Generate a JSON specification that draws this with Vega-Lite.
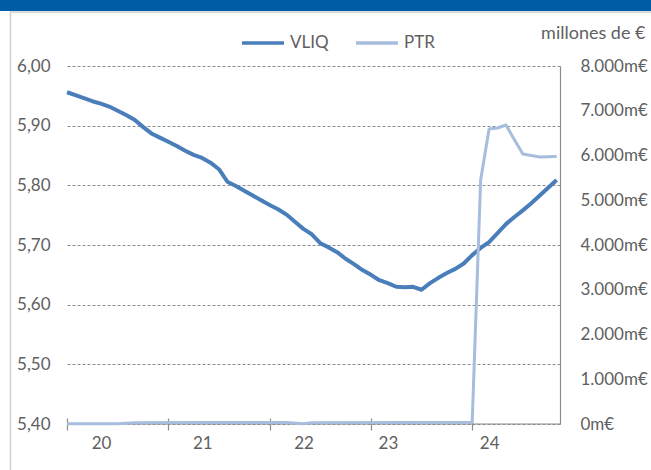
{
  "$schema": "https://vega.github.io/schema/vega-lite/v6.json",
  "width": 493,
  "height": 358,
  "autosize": {"type": "none"},
  "padding": {"left": 67, "top": 66, "right": 91, "bottom": 46},
  "background": "white",
  "config": {
    "view": {"stroke": null},
    "font": "Lato",
    "axis": {"labelFont": "Lato", "labelFontSize": 17, "labelColor": "#606060", "titleFont": "Lato", "titleColor": "#606060", "titleFontWeight": "normal"}
  },
  "datasets": {
    "vliq": [
      {"m": 0, "serie": "VLIQ", "valor": 5.956}, {"m": 1, "serie": "VLIQ", "valor": 5.951}, {"m": 2, "serie": "VLIQ", "valor": 5.946},
      {"m": 3, "serie": "VLIQ", "valor": 5.941}, {"m": 4, "serie": "VLIQ", "valor": 5.937}, {"m": 5, "serie": "VLIQ", "valor": 5.932},
      {"m": 6, "serie": "VLIQ", "valor": 5.925}, {"m": 7, "serie": "VLIQ", "valor": 5.918}, {"m": 8, "serie": "VLIQ", "valor": 5.910},
      {"m": 9, "serie": "VLIQ", "valor": 5.898}, {"m": 10, "serie": "VLIQ", "valor": 5.887}, {"m": 11, "serie": "VLIQ", "valor": 5.880},
      {"m": 12, "serie": "VLIQ", "valor": 5.873}, {"m": 13, "serie": "VLIQ", "valor": 5.866}, {"m": 14, "serie": "VLIQ", "valor": 5.858},
      {"m": 15, "serie": "VLIQ", "valor": 5.851}, {"m": 16, "serie": "VLIQ", "valor": 5.846}, {"m": 17, "serie": "VLIQ", "valor": 5.838},
      {"m": 18, "serie": "VLIQ", "valor": 5.827}, {"m": 19, "serie": "VLIQ", "valor": 5.806}, {"m": 20, "serie": "VLIQ", "valor": 5.799},
      {"m": 21, "serie": "VLIQ", "valor": 5.791}, {"m": 22, "serie": "VLIQ", "valor": 5.783}, {"m": 23, "serie": "VLIQ", "valor": 5.775},
      {"m": 24, "serie": "VLIQ", "valor": 5.767}, {"m": 25, "serie": "VLIQ", "valor": 5.760}, {"m": 26, "serie": "VLIQ", "valor": 5.751},
      {"m": 27, "serie": "VLIQ", "valor": 5.739}, {"m": 28, "serie": "VLIQ", "valor": 5.727}, {"m": 29, "serie": "VLIQ", "valor": 5.718},
      {"m": 30, "serie": "VLIQ", "valor": 5.703}, {"m": 31, "serie": "VLIQ", "valor": 5.696}, {"m": 32, "serie": "VLIQ", "valor": 5.688},
      {"m": 33, "serie": "VLIQ", "valor": 5.677}, {"m": 34, "serie": "VLIQ", "valor": 5.668}, {"m": 35, "serie": "VLIQ", "valor": 5.658},
      {"m": 36, "serie": "VLIQ", "valor": 5.650}, {"m": 37, "serie": "VLIQ", "valor": 5.641}, {"m": 38, "serie": "VLIQ", "valor": 5.636},
      {"m": 39, "serie": "VLIQ", "valor": 5.630}, {"m": 40, "serie": "VLIQ", "valor": 5.629}, {"m": 41, "serie": "VLIQ", "valor": 5.630},
      {"m": 42, "serie": "VLIQ", "valor": 5.625}, {"m": 43, "serie": "VLIQ", "valor": 5.636}, {"m": 44, "serie": "VLIQ", "valor": 5.645},
      {"m": 45, "serie": "VLIQ", "valor": 5.653}, {"m": 46, "serie": "VLIQ", "valor": 5.660}, {"m": 47, "serie": "VLIQ", "valor": 5.669},
      {"m": 48, "serie": "VLIQ", "valor": 5.683}, {"m": 49, "serie": "VLIQ", "valor": 5.695}, {"m": 50, "serie": "VLIQ", "valor": 5.705},
      {"m": 51, "serie": "VLIQ", "valor": 5.720}, {"m": 52, "serie": "VLIQ", "valor": 5.735}, {"m": 53, "serie": "VLIQ", "valor": 5.747},
      {"m": 54, "serie": "VLIQ", "valor": 5.758}, {"m": 55, "serie": "VLIQ", "valor": 5.770}, {"m": 56, "serie": "VLIQ", "valor": 5.783},
      {"m": 57, "serie": "VLIQ", "valor": 5.796}, {"m": 58, "serie": "VLIQ", "valor": 5.809}
    ],
    "ptr": [
      {"m": 0, "serie": "PTR", "valor": 5}, {"m": 6, "serie": "PTR", "valor": 5}, {"m": 8, "serie": "PTR", "valor": 30},
      {"m": 16, "serie": "PTR", "valor": 35}, {"m": 26, "serie": "PTR", "valor": 35}, {"m": 28, "serie": "PTR", "valor": 5},
      {"m": 29, "serie": "PTR", "valor": 30}, {"m": 40, "serie": "PTR", "valor": 35}, {"m": 48, "serie": "PTR", "valor": 40},
      {"m": 49, "serie": "PTR", "valor": 5452}, {"m": 50, "serie": "PTR", "valor": 6592}, {"m": 51, "serie": "PTR", "valor": 6614},
      {"m": 52, "serie": "PTR", "valor": 6681}, {"m": 53, "serie": "PTR", "valor": 6350}, {"m": 54, "serie": "PTR", "valor": 6034},
      {"m": 55, "serie": "PTR", "valor": 6000}, {"m": 56, "serie": "PTR", "valor": 5966}, {"m": 57, "serie": "PTR", "valor": 5972},
      {"m": 58, "serie": "PTR", "valor": 5975}
    ]
  },
  "layer": [
    {
      "layer": [
        {
          "data": {"values": [{}]},
          "mark": {"type": "rect", "color": "#005DA5", "clip": false},
          "encoding": {
            "x": {"datum": -8.5, "type": "quantitative"},
            "x2": {"datum": 72},
            "y": {"datum": 6.0922, "type": "quantitative"},
            "y2": {"datum": 6.13}
          }
        },
        {
          "data": {"values": [{}]},
          "mark": {"type": "rect", "fill": null, "fillOpacity": 0, "stroke": "#CFCFCF", "strokeWidth": 1.5, "clip": false},
          "encoding": {
            "x": {"datum": -6.7, "type": "quantitative"},
            "x2": {"datum": 72},
            "y": {"datum": 6.0905, "type": "quantitative"},
            "y2": {"datum": 5.29}
          }
        },
        {
          "data": {"values": [{}]},
          "mark": {"type": "rule", "color": "#8C8C8C", "strokeWidth": 1.2},
          "encoding": {"y": {"datum": 5.4, "type": "quantitative"}}
        },
        {
          "data": {"name": "vliq"},
          "mark": {"type": "line", "strokeWidth": 4, "strokeJoin": "round", "strokeCap": "butt"},
          "encoding": {
            "x": {
              "field": "m", "type": "quantitative",
              "scale": {"domain": [0, 58.4], "nice": false, "zero": false},
              "axis": {
                "values": [0, 12, 24, 36, 48],
                "domain": false, "grid": false,
                "ticks": true, "tickSize": 12, "tickColor": "#8C8C8C", "tickWidth": 1.2,
                "offset": -6,
                "labelExpr": "'' + (20 + datum.value / 12)",
                "labelOffset": {"condition": {"test": "datum.value >= 36", "value": 17}, "value": 34},
                "labelPadding": 5,
                "labelFlush": false,
                "title": null
              }
            },
            "y": {
              "field": "valor", "type": "quantitative",
              "scale": {"domain": [5.4, 6.0], "nice": false, "zero": false},
              "axis": {
                "values": [5.4, 5.5, 5.6, 5.7, 5.8, 5.9, 6.0],
                "domain": false, "ticks": false,
                "grid": true, "gridColor": "#8C8C8C", "gridDash": [3, 2], "gridWidth": 1,
                "labelExpr": "replace(format(datum.value, '.2f'), '.', ',')",
                "labelPadding": 17,
                "title": null
              }
            },
            "color": {
              "field": "serie", "type": "nominal",
              "scale": {"domain": ["VLIQ", "PTR"], "range": ["#4A7EBB", "#A7BDDD"]},
              "legend": {
                "orient": "none", "direction": "horizontal",
                "legendX": 173, "legendY": -46,
                "title": null,
                "symbolType": "stroke", "symbolSize": 1764, "symbolStrokeWidth": 3.5,
                "labelFont": "Lato", "labelFontSize": 17, "labelColor": "#606060",
                "labelOffset": 4, "columnPadding": 20, "padding": 0
              }
            }
          }
        }
      ]
    },
    {
      "data": {"name": "ptr"},
      "mark": {"type": "line", "strokeWidth": 3, "strokeJoin": "round"},
      "encoding": {
        "x": {"field": "m", "type": "quantitative"},
        "y": {
          "field": "valor", "type": "quantitative",
          "scale": {"domain": [0, 8000], "nice": false, "zero": true},
          "axis": {
            "orient": "right",
            "values": [0, 1000, 2000, 3000, 4000, 5000, 6000, 7000, 8000],
            "domain": true, "domainColor": "#8C8C8C", "domainWidth": 1.2,
            "ticks": false, "grid": false,
            "labelExpr": "replace(format(datum.value, ','), ',', '.') + 'm€'",
            "labelPadding": 20,
            "title": "millones de €",
            "titleAngle": 0, "titleAlign": "right", "titleBaseline": "middle",
            "titleX": 85, "titleY": -33, "titleFontSize": 18
          }
        },
        "color": {"field": "serie", "type": "nominal"}
      }
    }
  ],
  "resolve": {"scale": {"y": "independent"}}
}
